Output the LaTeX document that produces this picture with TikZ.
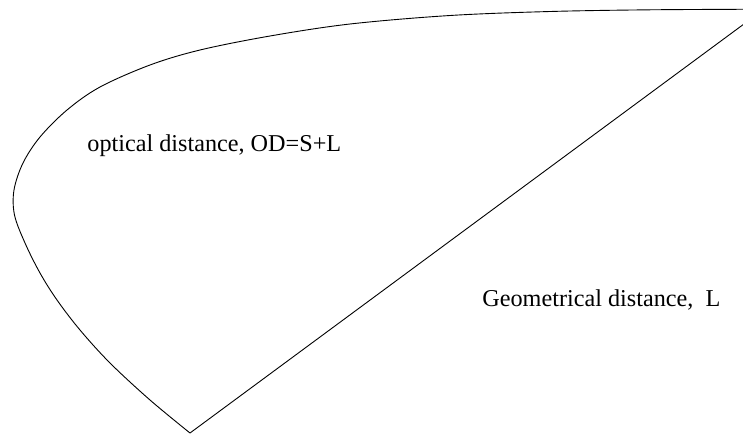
\documentclass[tikz,border=0pt]{standalone}
\usepackage{fontspec}
\setmainfont{Liberation Serif}
\begin{document}
\begin{tikzpicture}[x=0.5pt,y=-0.5pt,
  outline/.style={line width=0.45pt,line join=miter},
  lbl/.style={anchor=base west,inner sep=0pt,font=\fontsize{12.1}{14}\selectfont}]
\useasboundingbox (0,0) rectangle (743,434);
\clip (0,0) rectangle (743,434);
\coordinate (tip) at (190,433);
\coordinate (apex) at (764,9.2);
\draw[outline] plot[smooth,tension=0.55] coordinates {(764,9.2) (650,9.8) (550,11.5) (450,15.5) (350,24) (270,36) (200,50) (150,65) (100,87) (67,110) (40,137) (23,163) (14,190) (14.5,215) (25,243) (40,273) (57,300) (80,330) (110,363) (150,400) (190,433)};
\draw[outline] (tip) -- (apex);
\node[lbl] (od) at (87,151) {optical distance, OD=S+L};
\node[lbl] (gd) at (482,306) {Geometrical distance,\ \ L};
\end{tikzpicture}
\end{document}
